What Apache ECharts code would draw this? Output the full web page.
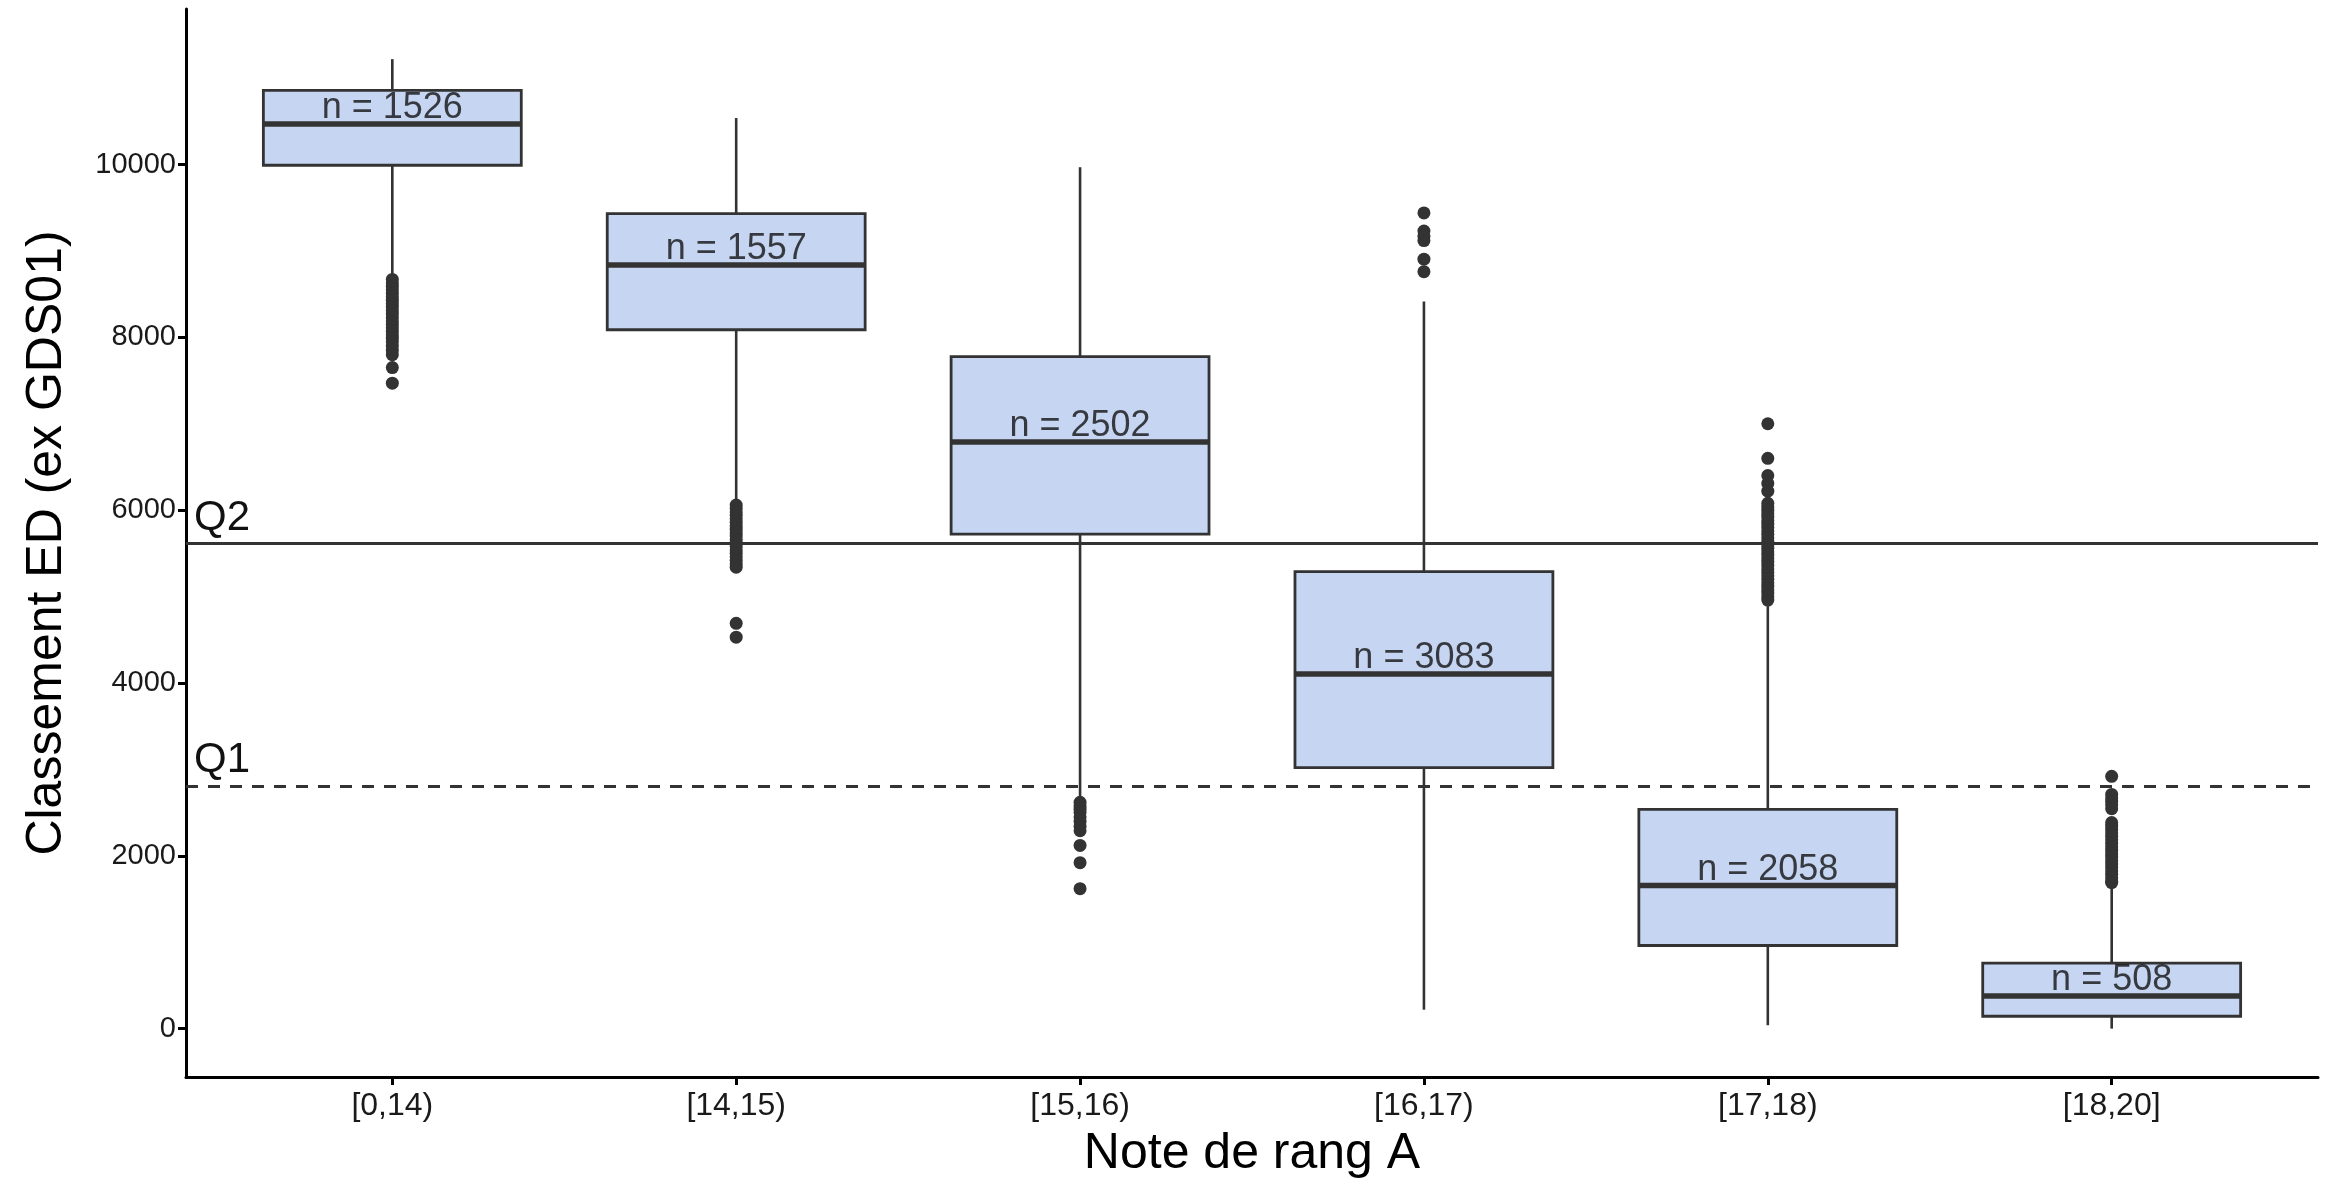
<!DOCTYPE html>
<html>
<head>
<meta charset="utf-8">
<script src="https://cdn.jsdelivr.net/npm/echarts@6/dist/echarts.min.js"></script>
<style>
  html, body { margin: 0; padding: 0; background: #ffffff; }
  #chart { width: 2338px; height: 1184px; }
</style>
</head>
<body>
<div id="chart"></div>
<script>
// ---- Data ----
const categories = ['[0,14)', '[14,15)', '[15,16)', '[16,17)', '[17,18)', '[18,20]'];

// [lower whisker, Q1, median, Q3, upper whisker]
const boxStats = [
  [8700, 9992, 10470, 10858, 11220],
  [6080, 8088, 8838, 9431, 10538],
  [2650, 5723, 6788, 7777, 9969],
  [219, 3020, 4104, 5289, 8416],
  [39, 962, 1655, 2538, 4890],
  [0, 143, 377, 758, 1670]
];

const counts = [1526, 1557, 2502, 3083, 2058, 508];

const outliers0 = [8670, 8630, 8590, 8550, 8510, 8470, 8430, 8390, 8350, 8310, 8270, 8230, 8190, 8150, 8110, 8070, 8030, 7990, 7950, 7900, 7850, 7800, 7650, 7470];
const outliers1 = [6060, 6020, 5980, 5940, 5900, 5860, 5820, 5780, 5740, 5700, 5660, 5620, 5580, 5540, 5500, 5460, 5420, 5380, 5340, 4690, 4530];
const outliers2 = [2620, 2580, 2540, 2500, 2450, 2400, 2340, 2290, 2120, 1920, 1620];
const outliers3 = [9440, 9230, 9170, 9120, 8905, 8760];
const outliers4 = [7000, 6600, 6400, 6310, 6220, 6080, 6040, 6000, 5960, 5920, 5880, 5840, 5800, 5760, 5720, 5680, 5640, 5600, 5560, 5520, 5480, 5440, 5400, 5360, 5320, 5280, 5240, 5200, 5160, 5120, 5080, 5040, 5000, 4960];
const outliers5 = [2920, 2710, 2670, 2630, 2590, 2545, 2385, 2345, 2305, 2265, 2225, 2185, 2145, 2105, 2065, 2025, 1985, 1945, 1905, 1865, 1825, 1785, 1745, 1705, 1690];
const outliers = [outliers0, outliers1, outliers2, outliers3, outliers4, outliers5];

const refLineNames = ['Q2', 'Q1'];
const refLineValues = [5616, 2810];

const yTickValues = [0, 2000, 4000, 6000, 8000, 10000];
const xTickValues = [0, 1, 2, 3, 4, 5];

// ---- Build series data ----
const boxData = boxStats.map((s, i) => [i].concat(s));
const outlierData = [];
outliers.forEach((arr, i) => arr.forEach(v => outlierData.push([i, v])));
const labelData = boxStats.map((s, i) => [i, s[2], counts[i]]);

const FONT = "'Liberation Sans', Arial, Helvetica, sans-serif";
const INK = '#333333';

const chart = echarts.init(document.getElementById('chart'), null, { renderer: 'canvas' });

chart.setOption({
  animation: false,
  backgroundColor: '#ffffff',
  textStyle: { fontFamily: FONT },
  grid: { left: 186, right: 20, top: 9, bottom: 104, containLabel: false },
  xAxis: {
    type: 'value',
    min: -0.6,
    max: 5.6,
    name: 'Note de rang A',
    nameLocation: 'middle',
    nameGap: 52,
    nameTextStyle: { fontSize: 50, color: '#000', fontFamily: FONT },
    axisLine: { show: true, onZero: false, lineStyle: { color: '#000', width: 3 } },
    axisTick: { show: true, length: 8, customValues: xTickValues, lineStyle: { color: '#000', width: 3 } },
    axisLabel: {
      show: true, customValues: xTickValues, margin: 13,
      fontSize: 32, color: '#1a1a1a', fontFamily: FONT,
      formatter: v => categories[Math.round(v)]
    },
    splitLine: { show: false }
  },
  yAxis: {
    type: 'value',
    min: -560,
    max: 11800,
    name: 'Classement ED (ex GDS01)',
    nameLocation: 'middle',
    nameGap: 114,
    nameRotate: 90,
    nameTextStyle: { fontSize: 50, color: '#000', fontFamily: FONT },
    axisLine: { show: true, onZero: false, lineStyle: { color: '#000', width: 3 } },
    axisTick: { show: true, length: 8, customValues: yTickValues, lineStyle: { color: '#000', width: 3 } },
    axisLabel: {
      show: true, customValues: yTickValues, margin: 10,
      fontSize: 29, color: '#1a1a1a', fontFamily: FONT,
      formatter: v => String(v)
    },
    splitLine: { show: false }
  },
  series: [
    {
      type: 'custom',
      name: 'box',
      data: boxData,
      encode: { x: 0, y: [1, 2, 3, 4, 5] },
      z: 2,
      renderItem: function (params, api) {
        const x = api.value(0);
        const lo = api.coord([x, api.value(1)]);
        const q1 = api.coord([x, api.value(2)]);
        const med = api.coord([x, api.value(3)]);
        const q3 = api.coord([x, api.value(4)]);
        const hi = api.coord([x, api.value(5)]);
        const w = api.size([0.75, 0])[0];
        const cx = lo[0];
        const left = cx - w / 2;
        return {
          type: 'group',
          children: [
            { type: 'line', shape: { x1: cx, y1: hi[1], x2: cx, y2: q3[1] }, style: { stroke: INK, lineWidth: 2.6 } },
            { type: 'line', shape: { x1: cx, y1: q1[1], x2: cx, y2: lo[1] }, style: { stroke: INK, lineWidth: 2.6 } },
            { type: 'rect', shape: { x: left, y: q3[1], width: w, height: q1[1] - q3[1] }, style: { fill: '#C6D6F2', stroke: INK, lineWidth: 2.8 } },
            { type: 'line', shape: { x1: left, y1: med[1], x2: left + w, y2: med[1] }, style: { stroke: INK, lineWidth: 5.5 } }
          ]
        };
      }
    },
    {
      type: 'scatter',
      name: 'outliers',
      data: outlierData,
      symbol: 'circle',
      symbolSize: 13,
      itemStyle: { color: INK, opacity: 1 },
      z: 3,
      markLine: {
        silent: true,
        symbol: ['none', 'none'],
        data: [
          {
            yAxis: refLineValues[0], name: refLineNames[0],
            lineStyle: { color: INK, width: 3, type: 'solid' },
            label: { show: true, formatter: refLineNames[0], position: 'insideStartTop', distance: [8, 4], fontSize: 42, color: '#111', fontFamily: FONT }
          },
          {
            yAxis: refLineValues[1], name: refLineNames[1],
            lineStyle: { color: INK, width: 3, type: [12, 10] },
            label: { show: true, formatter: refLineNames[1], position: 'insideStartTop', distance: [8, 4], fontSize: 42, color: '#111', fontFamily: FONT }
          }
        ]
      }
    },
    {
      type: 'scatter',
      name: 'counts',
      data: labelData,
      symbolSize: 0,
      z: 4,
      label: {
        show: true,
        position: 'top',
        distance: -2,
        fontSize: 36,
        lineHeight: 36,
        color: '#111',
        fontFamily: FONT,
        formatter: p => 'n = ' + p.value[2]
      }
    }
  ]
});
</script>
</body>
</html>
